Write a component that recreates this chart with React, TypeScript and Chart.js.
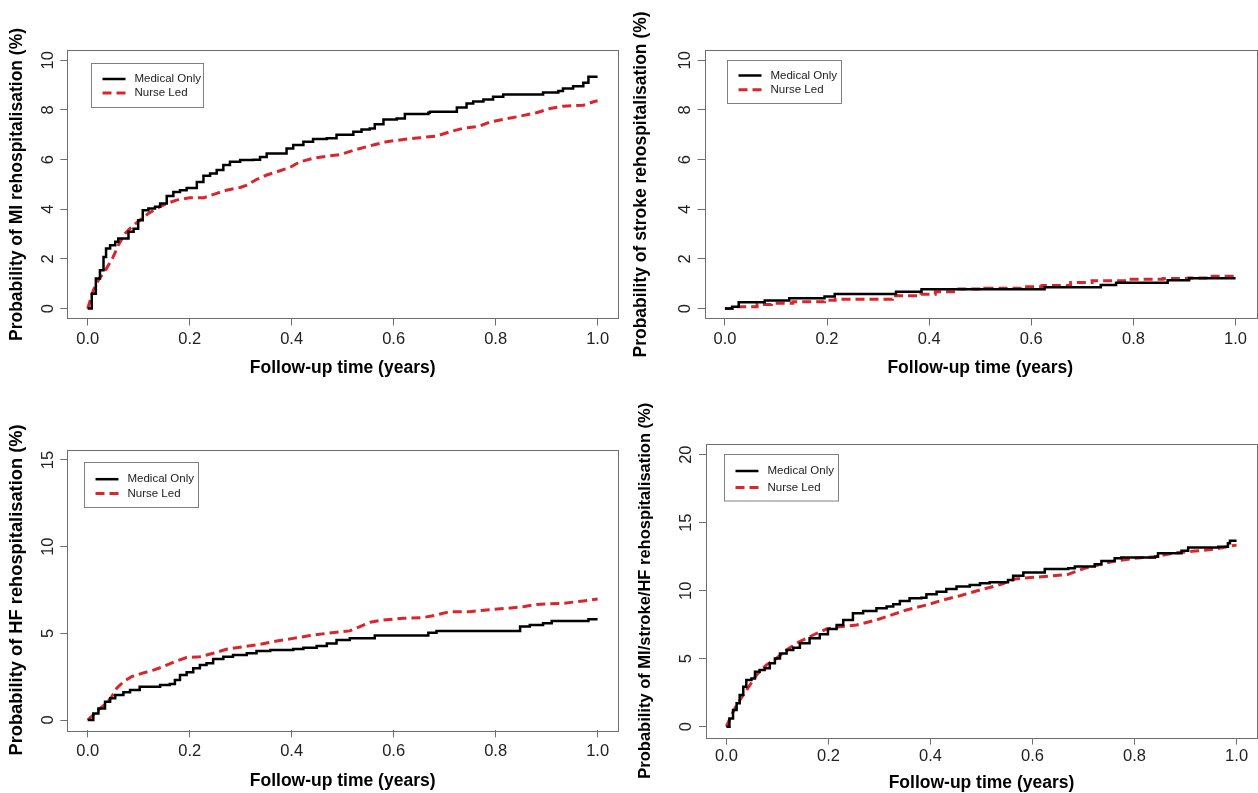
import { useEffect, useRef } from "react";
import { Chart, registerables } from "chart.js";

Chart.register(...registerables);

// ---------- text & ticks ----------
const SERIES_NAMES = ["Medical Only", "Nurse Led"];
const X_TITLE = "Follow-up time (years)";
const Y_TITLE_MI = "Probability of MI rehospitalisation (%)";
const Y_TITLE_STROKE = "Probability of stroke rehospitalisation (%)";
const Y_TITLE_HF = "Probability of HF rehospitalisation (%)";
const Y_TITLE_ALL = "Probability of MI/stroke/HF rehospitalisation (%)";

const X_TICKS = [0, 0.2, 0.4, 0.6, 0.8, 1.0];
const X_TICK_LABELS = ["0.0", "0.2", "0.4", "0.6", "0.8", "1.0"];
const Y_TICKS_MI = [0, 2, 4, 6, 8, 10];
const Y_TICKS_STROKE = [0, 2, 4, 6, 8, 10];
const Y_TICKS_HF = [0, 5, 10, 15];
const Y_TICKS_ALL = [0, 5, 10, 15, 20];

// ---------- data (years, %) ----------
const MI_MED_T = [0, 0.008, 0.016, 0.024, 0.031, 0.036, 0.044, 0.054, 0.06, 0.08, 0.09, 0.099, 0.108, 0.119, 0.132, 0.142, 0.155, 0.168, 0.181, 0.194, 0.214, 0.227, 0.24, 0.253, 0.266, 0.279, 0.299, 0.325, 0.338, 0.351, 0.39, 0.403, 0.423, 0.442, 0.469, 0.488, 0.521, 0.537, 0.553, 0.563, 0.58, 0.606, 0.622, 0.668, 0.671, 0.724, 0.743, 0.756, 0.776, 0.795, 0.815, 0.893, 0.923, 0.932, 0.952, 0.972, 0.982, 1.0];
const MI_MED_P = [0, 0.6, 1.21, 1.54, 2.08, 2.42, 2.55, 2.69, 2.82, 3.09, 3.22, 3.56, 3.96, 4.03, 4.1, 4.23, 4.53, 4.7, 4.77, 4.86, 5.1, 5.35, 5.44, 5.58, 5.78, 5.91, 5.98, 6.0, 6.11, 6.25, 6.45, 6.59, 6.72, 6.83, 6.86, 7.0, 7.12, 7.21, 7.25, 7.43, 7.62, 7.66, 7.84, 7.89, 7.93, 8.1, 8.26, 8.34, 8.42, 8.53, 8.62, 8.7, 8.76, 8.87, 8.96, 9.1, 9.34, 9.34];
const MI_NURSE_T = [0, 0.011, 0.021, 0.037, 0.05, 0.06, 0.073, 0.086, 0.102, 0.119, 0.135, 0.155, 0.174, 0.2, 0.227, 0.253, 0.272, 0.299, 0.312, 0.331, 0.351, 0.377, 0.397, 0.416, 0.442, 0.469, 0.495, 0.527, 0.56, 0.586, 0.619, 0.651, 0.684, 0.71, 0.736, 0.769, 0.789, 0.815, 0.848, 0.88, 0.907, 0.932, 0.972, 0.992, 1.0];
const MI_NURSE_P = [0, 0.74, 1.15, 1.62, 2.08, 2.55, 3.02, 3.29, 3.56, 3.83, 4.03, 4.23, 4.37, 4.46, 4.46, 4.64, 4.77, 4.88, 4.97, 5.2, 5.38, 5.55, 5.69, 5.91, 6.05, 6.14, 6.2, 6.41, 6.59, 6.72, 6.81, 6.88, 6.95, 7.12, 7.26, 7.35, 7.52, 7.62, 7.75, 7.89, 8.06, 8.15, 8.19, 8.33, 8.37];

const ST_MED_T = [0, 0.014, 0.027, 0.078, 0.126, 0.195, 0.215, 0.335, 0.385, 0.626, 0.736, 0.766, 0.867, 0.909, 1.0];
const ST_MED_P = [0, 0.07, 0.25, 0.33, 0.42, 0.49, 0.59, 0.68, 0.78, 0.86, 0.95, 1.04, 1.14, 1.22, 1.22];
const ST_NURSE_T = [0, 0.021, 0.063, 0.091, 0.133, 0.195, 0.216, 0.328, 0.384, 0.412, 0.454, 0.509, 0.579, 0.621, 0.677, 0.719, 0.789, 0.858, 0.907, 0.942, 1.0];
const ST_NURSE_P = [0, 0.07, 0.16, 0.21, 0.27, 0.34, 0.38, 0.52, 0.58, 0.68, 0.79, 0.82, 0.88, 0.93, 1.05, 1.12, 1.18, 1.21, 1.23, 1.3, 1.34];

const HF_MED_T = [0, 0.011, 0.021, 0.034, 0.044, 0.054, 0.07, 0.083, 0.102, 0.142, 0.161, 0.171, 0.181, 0.194, 0.207, 0.22, 0.233, 0.246, 0.266, 0.285, 0.312, 0.331, 0.358, 0.403, 0.423, 0.449, 0.469, 0.488, 0.514, 0.563, 0.668, 0.684, 0.848, 0.867, 0.893, 0.91, 0.982, 1.0];
const HF_MED_P = [0, 0.38, 0.67, 1.05, 1.25, 1.44, 1.6, 1.73, 1.92, 2.02, 2.08, 2.31, 2.6, 2.75, 2.98, 3.17, 3.27, 3.52, 3.65, 3.75, 3.85, 3.98, 4.04, 4.1, 4.17, 4.27, 4.42, 4.61, 4.71, 4.87, 5.04, 5.14, 5.39, 5.48, 5.58, 5.71, 5.81, 5.81];
const HF_NURSE_T = [0, 0.011, 0.024, 0.037, 0.047, 0.057, 0.07, 0.086, 0.106, 0.129, 0.148, 0.171, 0.194, 0.22, 0.246, 0.272, 0.305, 0.338, 0.371, 0.403, 0.436, 0.469, 0.514, 0.534, 0.554, 0.58, 0.619, 0.658, 0.684, 0.71, 0.749, 0.782, 0.821, 0.854, 0.88, 0.932, 0.972, 1.0];
const HF_NURSE_P = [0, 0.29, 0.67, 0.96, 1.34, 1.83, 2.21, 2.5, 2.69, 2.88, 3.08, 3.37, 3.6, 3.65, 3.85, 4.08, 4.23, 4.37, 4.56, 4.71, 4.87, 5.0, 5.14, 5.39, 5.64, 5.77, 5.87, 5.91, 6.06, 6.25, 6.25, 6.35, 6.44, 6.54, 6.67, 6.73, 6.87, 6.98];

const ALL_MED_T = [0, 0.006, 0.013, 0.02, 0.026, 0.033, 0.039, 0.049, 0.056, 0.065, 0.075, 0.085, 0.095, 0.105, 0.118, 0.131, 0.144, 0.163, 0.183, 0.199, 0.216, 0.229, 0.248, 0.268, 0.294, 0.314, 0.327, 0.34, 0.359, 0.382, 0.392, 0.412, 0.431, 0.451, 0.477, 0.497, 0.516, 0.552, 0.562, 0.582, 0.624, 0.67, 0.683, 0.722, 0.735, 0.761, 0.774, 0.84, 0.846, 0.892, 0.905, 0.964, 0.983, 0.987, 1.0];
const ALL_MED_P = [0, 0.61, 1.22, 1.72, 2.33, 2.94, 3.43, 3.55, 4.04, 4.17, 4.29, 4.66, 5.02, 5.39, 5.64, 5.81, 6.13, 6.5, 6.79, 7.18, 7.48, 7.85, 8.34, 8.51, 8.71, 8.83, 9.0, 9.24, 9.44, 9.49, 9.73, 9.93, 10.12, 10.3, 10.42, 10.55, 10.62, 10.79, 11.1, 11.33, 11.6, 11.65, 11.77, 11.94, 12.18, 12.38, 12.45, 12.5, 12.75, 12.94, 13.17, 13.24, 13.48, 13.68, 13.68];
const ALL_NURSE_T = [0, 0.01, 0.02, 0.033, 0.046, 0.059, 0.078, 0.098, 0.118, 0.137, 0.157, 0.177, 0.196, 0.222, 0.255, 0.294, 0.327, 0.353, 0.392, 0.425, 0.458, 0.49, 0.539, 0.565, 0.618, 0.67, 0.702, 0.735, 0.761, 0.8, 0.84, 0.879, 0.918, 0.957, 0.99, 1.0];
const ALL_NURSE_P = [0, 0.86, 1.59, 2.33, 3.06, 3.8, 4.53, 5.02, 5.64, 6.13, 6.5, 6.87, 7.18, 7.35, 7.48, 7.85, 8.26, 8.58, 8.95, 9.32, 9.63, 9.98, 10.47, 10.86, 11.03, 11.2, 11.65, 11.94, 12.18, 12.38, 12.5, 12.79, 12.91, 13.06, 13.3, 13.35];

// ---------- styles ----------
const FONT = '"Liberation Sans", Arial, Helvetica, sans-serif';
const BLACK = "#000000";
const RED = "#d8262c";
const FRAME = "#6e6e6e";
const TICK_SIZE = 16.5;
const TITLE_SIZE = 17.5;

type PanelCfg = {
  left: number; top: number; w: number; h: number;
  ca: { l: number; t: number; r: number; b: number };
  yTitle: string; yTicks: number[]; yTitleSize: number;
  yTitleCx: number; xTickOff: number; xTitleCy: number;
  legend: { dx: number; dy: number; w: number; h: number; r1: number; r2: number };
  med: [number[], number[]]; nurse: [number[], number[]];
  nurseStepped: boolean;
};

const PANELS: PanelCfg[] = [
  {
    left: 0, top: 0, w: 629, h: 396,
    ca: { l: 67.3, t: 50.4, r: 618, b: 318.5 },
    yTitle: Y_TITLE_MI, yTicks: Y_TICKS_MI, yTitleSize: 17.5,
    yTitleCx: 17.5, xTickOff: 20.5, xTitleCy: 368,
    legend: { dx: 23.5, dy: 12.3, w: 112, h: 44, r1: 15.5, r2: 29.5 },
    med: [MI_MED_T, MI_MED_P], nurse: [MI_NURSE_T, MI_NURSE_P], nurseStepped: false,
  },
  {
    left: 629, top: 0, w: 629, h: 396,
    ca: { l: 75.5, t: 50.4, r: 627, b: 318.5 },
    yTitle: Y_TITLE_STROKE, yTicks: Y_TICKS_STROKE, yTitleSize: 17.5,
    yTitleCx: 12, xTickOff: 20.5, xTitleCy: 368,
    legend: { dx: 22, dy: 9.6, w: 114, h: 43, r1: 15, r2: 29.3 },
    med: [ST_MED_T, ST_MED_P], nurse: [ST_NURSE_T, ST_NURSE_P], nurseStepped: true,
  },
  {
    left: 0, top: 396, w: 629, h: 397,
    ca: { l: 67.3, t: 53.6, r: 618, b: 334.4 },
    yTitle: Y_TITLE_HF, yTicks: Y_TICKS_HF, yTitleSize: 18.3,
    yTitleCx: 17, xTickOff: 21.3, xTitleCy: 385,
    legend: { dx: 16.7, dy: 12.7, w: 114, h: 45, r1: 16.7, r2: 31 },
    med: [HF_MED_T, HF_MED_P], nurse: [HF_NURSE_T, HF_NURSE_P], nurseStepped: false,
  },
  {
    left: 629, top: 396, w: 629, h: 397,
    ca: { l: 77, t: 47.8, r: 628, b: 341.6 },
    yTitle: Y_TITLE_ALL, yTicks: Y_TICKS_ALL, yTitleSize: 16.5,
    yTitleCx: 16, xTickOff: 19, xTitleCy: 387,
    legend: { dx: 18, dy: 10.2, w: 114, h: 46.5, r1: 16.5, r2: 32.9 },
    med: [ALL_MED_T, ALL_MED_P], nurse: [ALL_NURSE_T, ALL_NURSE_P], nurseStepped: false,
  },
];

function zip(t: number[], p: number[]) {
  return t.map((x, i) => ({ x, y: p[i] }));
}

const framePlugin = {
  id: "rFrame",
  afterDraw(chart: any) {
    const { ctx, chartArea: a } = chart;
    ctx.save();
    ctx.strokeStyle = FRAME;
    ctx.lineWidth = 1;
    ctx.strokeRect(Math.round(a.left) + 0.5, Math.round(a.top) + 0.5, Math.round(a.right - a.left), Math.round(a.bottom - a.top));
    ctx.restore();
  },
};

function makeLegendPlugin(lg: PanelCfg["legend"]) {
  return {
    id: "rLegend",
    afterDraw(chart: any) {
      const { ctx, chartArea: a } = chart;
      const x = Math.round(a.left + lg.dx) + 0.5;
      const y = Math.round(a.top + lg.dy) + 0.5;
      ctx.save();
      ctx.fillStyle = "#ffffff";
      ctx.fillRect(x, y, lg.w, lg.h);
      ctx.strokeStyle = "#808080";
      ctx.lineWidth = 1;
      ctx.setLineDash([]);
      ctx.strokeRect(x, y, lg.w, lg.h);
      const rows = [lg.r1, lg.r2];
      chart.data.datasets.forEach((ds: any, i: number) => {
        const ry = y + rows[i];
        ctx.beginPath();
        ctx.setLineDash(ds.borderDash || []);
        ctx.strokeStyle = ds.borderColor;
        ctx.lineWidth = ds.borderWidth;
        ctx.moveTo(x + 11, ry);
        ctx.lineTo(x + 34, ry);
        ctx.stroke();
        ctx.setLineDash([]);
        ctx.fillStyle = "#222222";
        ctx.font = `11.5px ${FONT}`;
        ctx.textBaseline = "middle";
        ctx.textAlign = "left";
        ctx.fillText(ds.label, x + 43, ry);
      });
      ctx.restore();
    },
  };
}

function Panel({ cfg }: { cfg: PanelCfg }) {
  const ref = useRef<HTMLCanvasElement | null>(null);
  useEffect(() => {
    if (!ref.current) return;
    const yMin = cfg.yTicks[0];
    const yMax = cfg.yTicks[cfg.yTicks.length - 1];
    const yPad = 0.04 * (yMax - yMin);
    const xMin = X_TICKS[0];
    const xMax = X_TICKS[X_TICKS.length - 1];
    const xPad = 0.04 * (xMax - xMin);
    const yAxisW = cfg.ca.l;
    const xAxisH = cfg.h - cfg.ca.b;
    const titleLH = TITLE_SIZE * 1.2;
    const yTitleLH = cfg.yTitleSize * 1.2;
    const tickLH = TICK_SIZE * 1.2;

    const chart = new Chart(ref.current, {
      type: "line",
      data: {
        datasets: [
          {
            label: SERIES_NAMES[0],
            data: zip(cfg.med[0], cfg.med[1]),
            borderColor: BLACK,
            borderWidth: 2.5,
            borderDash: [],
            stepped: "before",
            pointRadius: 0,
            fill: false,
          },
          {
            label: SERIES_NAMES[1],
            data: zip(cfg.nurse[0], cfg.nurse[1]),
            borderColor: RED,
            borderWidth: 3,
            borderDash: [9, 5],
            stepped: cfg.nurseStepped ? "before" : false,
            tension: 0,
            pointRadius: 0,
            fill: false,
          },
        ],
      },
      options: {
        responsive: false,
        animation: false,
        devicePixelRatio: 1,
        layout: { padding: { left: 0, top: cfg.ca.t, right: cfg.w - cfg.ca.r, bottom: 0 } },
        plugins: { legend: { display: false }, tooltip: { enabled: false } },
        scales: {
          x: {
            type: "linear",
            min: xMin - xPad,
            max: xMax + xPad,
            afterBuildTicks: (s: any) => {
              s.ticks = X_TICKS.map((v) => ({ value: v }));
            },
            afterFit: (s: any) => {
              s.height = xAxisH;
            },
            ticks: {
              autoSkip: false,
              maxRotation: 0,
              minRotation: 0,
              padding: cfg.xTickOff - 7 - tickLH / 2,
              color: "#222222",
              font: { family: FONT, size: TICK_SIZE },
              callback: (_v: any, i: number) => X_TICK_LABELS[i],
            },
            grid: { drawOnChartArea: false, drawTicks: true, tickLength: 7, color: FRAME, lineWidth: 1 },
            border: { display: false },
            title: {
              display: true,
              text: X_TITLE,
              color: "#000000",
              font: { family: FONT, size: TITLE_SIZE, weight: "bold" },
              padding: { top: 0, bottom: cfg.h - cfg.xTitleCy - titleLH / 2 },
            },
          },
          y: {
            type: "linear",
            min: yMin - yPad,
            max: yMax + yPad,
            afterBuildTicks: (s: any) => {
              s.ticks = cfg.yTicks.map((v) => ({ value: v }));
            },
            afterFit: (s: any) => {
              s.width = yAxisW;
            },
            ticks: {
              autoSkip: false,
              minRotation: 90,
              maxRotation: 90,
              crossAlign: "center",
              padding: 3,
              color: "#222222",
              font: { family: FONT, size: TICK_SIZE },
              callback: (v: any) => String(v),
            },
            grid: { drawOnChartArea: false, drawTicks: true, tickLength: 7, color: FRAME, lineWidth: 1 },
            border: { display: false },
            title: {
              display: true,
              text: cfg.yTitle,
              color: "#000000",
              font: { family: FONT, size: cfg.yTitleSize, weight: "bold" },
              padding: { top: cfg.yTitleCx - yTitleLH / 2, bottom: 0 },
            },
          },
        },
      } as any,
      plugins: [framePlugin, makeLegendPlugin(cfg.legend)],
    });
    return () => chart.destroy();
  }, [cfg]);

  return (
    <canvas
      ref={ref}
      width={cfg.w}
      height={cfg.h}
      style={{ position: "absolute", left: cfg.left, top: cfg.top, width: cfg.w, height: cfg.h }}
    />
  );
}

export default function App() {
  return (
    <div style={{ position: "fixed", left: 0, top: 0, width: 1258, height: 793, background: "#ffffff", overflow: "hidden" }}>
      {PANELS.map((p, i) => (
        <Panel key={i} cfg={p} />
      ))}
    </div>
  );
}
